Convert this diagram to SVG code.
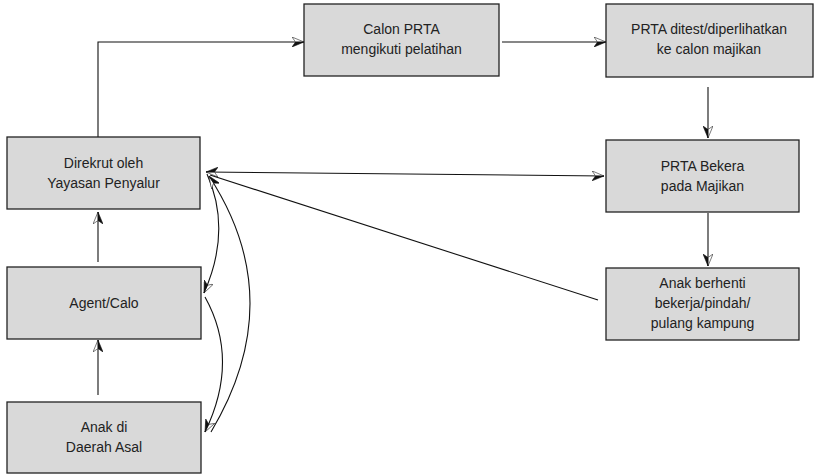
<svg xmlns="http://www.w3.org/2000/svg" width="814" height="475" viewBox="0 0 814 475">
<defs>
<style>
.box{fill:#d9d9d9;stroke:#222;stroke-width:1.3}
.t{font-family:"Liberation Sans",Arial,sans-serif;font-size:14px;fill:#222;text-anchor:middle}
.c{fill:none;stroke:#111;stroke-width:1.1}
</style>
<marker id="ah" viewBox="0 0 12 10" refX="12" refY="5" markerWidth="12" markerHeight="10" markerUnits="userSpaceOnUse" orient="auto-start-reverse">
<path d="M12,5 L0,0 L3.5,5 Z" fill="#fff" stroke="#222" stroke-width="0.6"/>
<path d="M12,5 L0,10 L3.5,5 Z" fill="#111" stroke="#111" stroke-width="0.6"/>
</marker>
</defs>
<rect width="814" height="475" fill="#fff"/>
<g id="connectors">
<path class="c" d="M98,137 V42 H304" marker-end="url(#ah)"/>
<path class="c" d="M502,42 H606" marker-end="url(#ah)"/>
<path class="c" d="M708,87 V138" marker-end="url(#ah)"/>
<path class="c" d="M708,213 V266" marker-end="url(#ah)"/>
<path class="c" d="M98,262 V212" marker-end="url(#ah)"/>
<path class="c" d="M98,395 V340" marker-end="url(#ah)"/>
<path class="c" d="M206,172 L604,176" marker-start="url(#ah)" marker-end="url(#ah)"/>
<path class="c" d="M598,300 L210,175"/>
<path class="c" d="M207,174 Q232,230 204,293" marker-end="url(#ah)"/>
<path class="c" d="M205,297 Q240,360 205,432" marker-end="url(#ah)"/>
<path class="c" d="M211,432 Q290,300 209,176" marker-end="url(#ah)"/>
</g>
<g id="n1"><rect class="box" x="7" y="137" width="193" height="72"/><text class="t" x="103.5" y="168">Direkrut oleh</text><text class="t" x="103.5" y="188">Yayasan Penyalur</text></g>
<g id="n2"><rect class="box" x="7" y="267" width="194" height="72"/><text class="t" x="104" y="308">Agent/Calo</text></g>
<g id="n3"><rect class="box" x="7" y="402" width="194" height="71"/><text class="t" x="104" y="432">Anak di</text><text class="t" x="104" y="452">Daerah Asal</text></g>
<g id="n4"><rect class="box" x="304" y="4" width="195" height="72"/><text class="t" x="401.5" y="34">Calon PRTA</text><text class="t" x="401.5" y="54">mengikuti pelatihan</text></g>
<g id="n5"><rect class="box" x="606" y="4" width="207" height="73"/><text class="t" x="709" y="34">PRTA ditest/diperlihatkan</text><text class="t" x="709" y="54">ke calon majikan</text></g>
<g id="n6"><rect class="box" x="606" y="140" width="193" height="72"/><text class="t" x="702.5" y="171">PRTA Bekera</text><text class="t" x="702.5" y="191">pada Majikan</text></g>
<g id="n7"><rect class="box" x="606" y="268" width="193" height="72"/><text class="t" x="702.5" y="288">Anak berhenti</text><text class="t" x="702.5" y="308">bekerja/pindah/</text><text class="t" x="702.5" y="328">pulang kampung</text></g>
</svg>
